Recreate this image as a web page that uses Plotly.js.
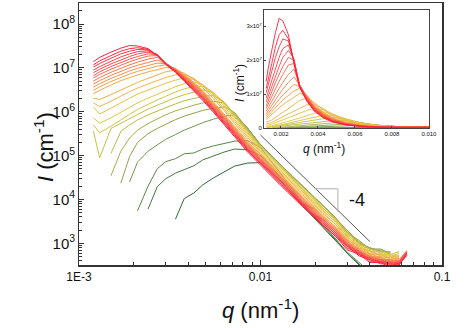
<!DOCTYPE html>
<html>
<head>
<meta charset="utf-8">
<script src="https://cdn.plot.ly/plotly-3.0.1.min.js"></script>
<style>
  html, body { margin: 0; padding: 0; background: #fff; }
  #chart { width: 467px; height: 328px; }
</style>
</head>
<body>
<div id="chart"></div>
<script>
// scattering vector q (nm^-1), shared by all curves
const q = [0.0012, 0.0013, 0.0015, 0.0017, 0.0019, 0.0021, 0.0024, 0.0027, 0.003, 0.0034,
           0.0038, 0.0043, 0.0048, 0.0055, 0.0063, 0.0072, 0.0085, 0.01, 0.013, 0.017,
           0.022, 0.026, 0.03, 0.035, 0.04, 0.046, 0.052, 0.058, 0.064];

// log10 of I (cm^-1), first curve (red) to last (dark green)
const logI00 = [7.14,7.24,7.36,7.45,7.51,7.50,7.44,7.28,7.08,6.90,6.70,6.48,6.26,5.99,5.72,5.43,5.08,4.78,4.31,3.84,3.41,3.16,2.85,2.75,2.56,2.56,2.45,2.52,2.72];
const logI01 = [7.07,7.16,7.28,7.38,7.44,7.46,7.42,7.29,7.09,6.91,6.72,6.50,6.29,6.02,5.75,5.46,5.11,4.81,4.34,3.87,3.44,3.15,2.94,2.71,2.63,2.53,2.53,2.50,2.75];
const logI02 = [7.02,7.10,7.22,7.32,7.38,7.42,7.41,7.30,7.09,6.92,6.73,6.52,6.31,6.04,5.77,5.48,5.13,4.83,4.36,3.89,3.46,3.21,2.89,2.78,2.59,2.59,2.48,2.55,2.75];
const logI03 = [6.95,7.03,7.15,7.25,7.32,7.37,7.39,7.30,7.10,6.93,6.74,6.54,6.32,6.06,5.79,5.50,5.15,4.85,4.38,3.91,3.48,3.19,2.97,2.74,2.66,2.56,2.56,2.53,2.78];
const logI04 = [6.89,6.97,7.09,7.19,7.26,7.32,7.36,7.31,7.10,6.94,6.75,6.55,6.34,6.08,5.81,5.52,5.17,4.87,4.40,3.93,3.50,3.25,2.93,2.81,2.62,2.62,2.51,2.58,2.78];
const logI05 = [6.82,6.91,7.03,7.13,7.20,7.26,7.32,7.30,7.11,6.94,6.77,6.57,6.36,6.10,5.83,5.54,5.19,4.89,4.42,3.95,3.52,3.23,3.00,2.76,2.68,2.58,2.58,2.55,2.80];
const logI06 = [6.77,6.85,6.97,7.07,7.14,7.20,7.27,7.28,7.11,6.95,6.78,6.58,6.38,6.12,5.85,5.56,5.21,4.91,4.44,3.97,3.54,3.29,2.96,2.83,2.64,2.64,2.53,2.60,2.80];
const logI07 = [6.70,6.78,6.90,7.00,7.07,7.13,7.20,7.24,7.11,6.96,6.79,6.60,6.40,6.14,5.87,5.58,5.23,4.93,4.46,3.99,3.56,3.27,3.04,2.79,2.71,2.61,2.61,2.58,2.83];
const logI08 = [6.63,6.71,6.83,6.93,7.00,7.06,7.13,7.18,7.10,6.97,6.80,6.62,6.42,6.16,5.89,5.60,5.25,4.95,4.48,4.01,3.58,3.33,2.99,2.86,2.67,2.67,2.56,2.63,2.83];
const logI09 = [6.56,6.64,6.76,6.86,6.93,6.99,7.06,7.11,7.09,6.97,6.81,6.63,6.44,6.18,5.91,5.62,5.27,4.97,4.50,4.03,3.60,3.31,3.07,2.81,2.73,2.63,2.63,2.60];
const logI10 = [6.49,6.57,6.69,6.79,6.86,6.92,6.99,7.04,7.07,6.98,6.83,6.65,6.46,6.20,5.93,5.64,5.29,4.99,4.52,4.05,3.62,3.37,3.03,2.89,2.70,2.70,2.59,2.66];
const logI11 = [6.41,6.49,6.61,6.71,6.78,6.84,6.91,6.96,7.01,6.99,6.85,6.67,6.49,6.23,5.96,5.67,5.32,5.02,4.55,4.08,3.65,3.36,3.11,2.85,2.77,2.67,2.67,2.64];
const logI12 = [6.31,6.28,6.39,6.50,6.59,6.67,6.76,6.84,6.91,6.95,6.88,6.73,6.55,6.30,6.03,5.73,5.37,5.05,4.58,4.11,3.68,3.43,3.08,2.93,2.74,2.74,2.63,2.70];
const logI13 = [6.20,6.12,6.24,6.36,6.46,6.54,6.63,6.71,6.78,6.84,6.85,6.76,6.60,6.36,6.08,5.78,5.42,5.08,4.61,4.14,3.71,3.42,3.17,2.89,2.81,2.71,2.71,2.68];
const logI14 = [6.11,5.95,6.08,6.21,6.31,6.40,6.50,6.58,6.65,6.72,6.77,6.74,6.62,6.40,6.13,5.82,5.46,5.11,4.64,4.17,3.74,3.49,3.13,2.96,2.77,2.77,2.66,2.73];
const logI15 = [5.86,5.74,5.86,5.99,6.10,6.20,6.31,6.40,6.48,6.57,6.64,6.68,6.62,6.43,6.17,5.86,5.50,5.14,4.67,4.20,3.77,3.48,3.22,2.92,2.84,2.74,2.74,2.71];
const logI16 = [5.70,5.52,5.67,5.82,5.94,6.05,6.17,6.27,6.35,6.45,6.52,6.58,6.58,6.44,6.20,5.89,5.53,5.17,4.70,4.23,3.80,3.55,3.18,3.00,2.81,2.81,2.70,2.77];
const logI17 = [5.56,4.95,5.62,5.74,5.85,5.95,6.06,6.15,6.23,6.32,6.39,6.45,6.50,6.43,6.22,5.92,5.56,5.20,4.73,4.26,3.83,3.54,3.27,2.96,2.88,2.78,2.78];
const logI18 = [null,null,5.05,5.55,5.70,5.81,5.93,6.02,6.10,6.18,6.25,6.31,6.35,6.37,6.22,5.94,5.58,5.22,4.75,4.28,3.85,3.56,3.22,3.04,2.85,2.85,2.74,2.81];
const logI19 = [null,null,4.54,5.10,5.40,5.58,5.73,5.84,5.93,6.02,6.09,6.15,6.20,6.24,6.20,5.96,5.60,5.24,4.77,4.30,3.87,3.55,3.30,2.99,2.91,2.81,2.81];
const logI20 = [null,null,null,4.37,4.98,5.30,5.50,5.62,5.72,5.82,5.90,5.97,6.03,6.08,6.11,5.98,5.62,5.25,4.78,4.31,3.88,3.58,3.25,3.06,2.87,2.87,2.76];
const logI21 = [null,null,null,null,4.40,4.85,5.10,5.25,5.37,5.48,5.58,5.67,5.75,5.83,5.90,5.93,5.63,5.25,4.77,4.30,3.87,3.55,3.30,3.01,2.89,2.83,2.78];
const logI22 = [null,null,null,null,null,3.74,4.30,4.70,4.86,4.93,5.04,5.06,5.15,5.22,5.28,5.33,5.34,5.18,4.58,3.92,3.42,3.10,2.80,2.55,2.35];
const logI23 = [null,null,null,null,null,null,3.78,4.29,4.47,4.60,4.68,4.77,4.90,4.99,5.08,5.15,5.13,5.00,4.50,3.88,3.40,3.08,2.77,2.50,2.30];
const logI24 = [null,null,null,null,null,null,null,null,null,3.55,4.02,4.15,4.33,4.49,4.63,4.76,4.83,4.84,4.42,3.86,3.37,3.06,2.78,2.52,2.32];

// q^-4 guide line and its slope marker
const slopeQ = [0.01, 0.04];
const slopeI = [2.95e5, 1.1e3];
const stepQ = [0.0200, 0.0267, 0.0267];
const stepI = [1.75e4, 1.75e4, 5.2e3];

const series = [logI00, logI01, logI02, logI03, logI04, logI05, logI06, logI07, logI08, logI09,
                logI10, logI11, logI12, logI13, logI14, logI15, logI16, logI17, logI18, logI19,
                logI20, logI21, logI22, logI23, logI24];

// red -> orange -> yellow -> green
const colorStops = [
  [0.00, [255, 30, 60]],
  [0.20, [250, 85, 80]],
  [0.42, [245, 160, 70]],
  [0.62, [232, 200, 60]],
  [0.76, [185, 185, 65]],
  [0.88, [110, 150, 75]],
  [1.00, [45, 105, 55]]
];

function colorAt(t) {
  for (let i = 1; i < colorStops.length; i++) {
    const a = colorStops[i - 1], b = colorStops[i];
    if (t <= b[0]) {
      const f = (t - a[0]) / (b[0] - a[0]);
      const c = a[1].map((v, j) => Math.round(v + (b[1][j] - v) * f));
      return 'rgb(' + c.join(',') + ')';
    }
  }
  return 'rgb(45,105,55)';
}

const traces = [];
for (let k = series.length - 1; k >= 0; k--) {
  const I = series[k].map(v => v === null ? null : Math.pow(10, v));
  const col = colorAt(k / (series.length - 1));
  traces.push({x: q, y: I, type: 'scatter', mode: 'lines',
               line: {color: col, width: 1}, hoverinfo: 'skip'});
  traces.push({x: q, y: I, type: 'scatter', mode: 'lines', xaxis: 'x2', yaxis: 'y2',
               line: {color: col, width: 0.9}, hoverinfo: 'skip'});
}
traces.push({x: slopeQ, y: slopeI, type: 'scatter', mode: 'lines',
             line: {color: '#555', width: 1}, hoverinfo: 'skip'});
traces.push({x: stepQ, y: stepI, type: 'scatter', mode: 'lines',
             line: {color: '#b0b0b0', width: 1}, hoverinfo: 'skip'});

const minorX = [0.002,0.003,0.004,0.005,0.006,0.007,0.008,0.009,
                0.02,0.03,0.04,0.05,0.06,0.07,0.08,0.09];

const layout = {
  width: 467,
  height: 328,
  margin: {l: 79, r: 25, t: 3, b: 63},
  paper_bgcolor: '#fff',
  plot_bgcolor: '#fff',
  showlegend: false,
  font: {family: 'Liberation Sans, Arial, sans-serif', color: '#111', size: 12},
  xaxis: {
    type: 'log', range: [-3, -1],
    tickmode: 'array', tickvals: [0.001, 0.01, 0.1], ticktext: ['1E-3', '0.01', '0.1'],
    ticks: 'inside', ticklen: 5, tickcolor: '#333',
    minor: {ticks: 'inside', ticklen: 3, tickvals: minorX, tickcolor: '#333'},
    showline: true, linecolor: '#333', linewidth: 1.5, mirror: true,
    showgrid: false, zeroline: false, tickfont: {size: 12}
  },
  yaxis: {
    type: 'log', range: [2.505, 8.48],
    tickmode: 'linear', tick0: 0, dtick: 1, exponentformat: 'power',
    ticks: 'inside', ticklen: 5, tickcolor: '#333',
    minor: {ticks: 'inside', ticklen: 3, dtick: 'D1', tickcolor: '#333'},
    showline: true, linecolor: '#333', linewidth: 1.5, mirror: true,
    showgrid: false, zeroline: false, tickfont: {size: 12}
  },
  xaxis2: {
    domain: [0.5096, 0.964], anchor: 'y2', range: [0.00108, 0.0100],
    tickmode: 'array', tickvals: [0.002, 0.004, 0.006, 0.008, 0.010],
    ticktext: ['0.002', '0.004', '0.006', '0.008', '0.010'],
    ticks: 'inside', ticklen: 2, tickcolor: '#444',
    showline: true, linecolor: '#444', linewidth: 1, mirror: true,
    showgrid: false, zeroline: false, tickfont: {size: 6}
  },
  yaxis2: {
    domain: [0.522, 0.973], anchor: 'x2', range: [0, 3.48e7],
    tickmode: 'array', tickvals: [0, 1e7, 2e7, 3e7],
    ticktext: ['0', '1x10<sup>7</sup>', '2x10<sup>7</sup>', '3x10<sup>7</sup>'],
    ticks: 'inside', ticklen: 2, tickcolor: '#444',
    showline: true, linecolor: '#444', linewidth: 1, mirror: true,
    showgrid: false, zeroline: false, tickfont: {size: 6}
  },
  annotations: [
    {text: '-4', xref: 'x', yref: 'y', x: -1.468, y: 3.99, showarrow: false,
     font: {size: 18}},
    {text: '<i>q</i> (nm<sup>-1</sup>)', xref: 'paper', yref: 'paper', x: 0.5, y: -0.168,
     yanchor: 'middle', showarrow: false, font: {size: 22}},
    {text: '<i>I</i> (cm<sup>-1</sup>)', xref: 'paper', yref: 'paper', x: -0.1405, y: 0.45,
     textangle: -90, showarrow: false, font: {size: 22}},
    {text: '<i>q</i> (nm<sup>-1</sup>)', xref: 'paper', yref: 'paper', x: 0.7375, y: 0.4466,
     yanchor: 'middle', showarrow: false, font: {size: 12}},
    {text: '<i>I</i> (cm<sup>-1</sup>)', xref: 'paper', yref: 'paper', x: 0.4408, y: 0.7748,
     textangle: -90, showarrow: false, font: {size: 12}}
  ]
};

Plotly.newPlot('chart', traces, layout, {displayModeBar: false, staticPlot: true});
</script>
</body>
</html>
